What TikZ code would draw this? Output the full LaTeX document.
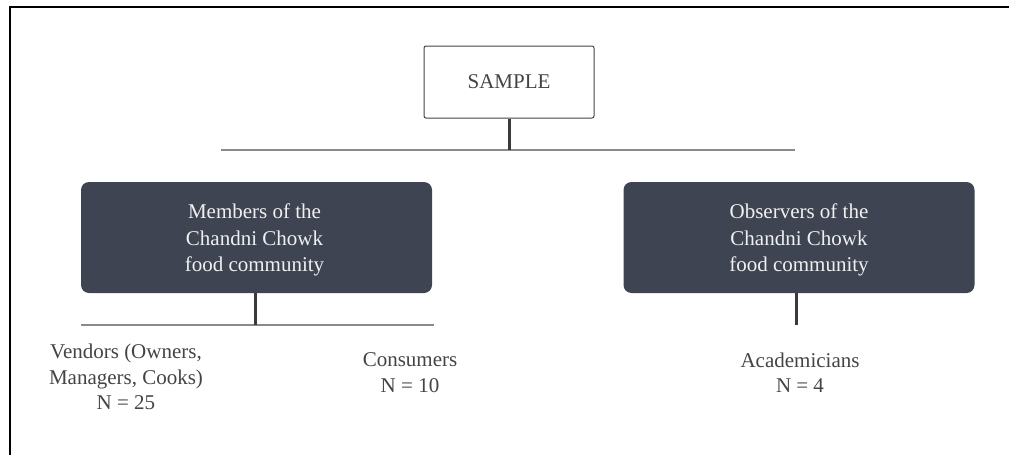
\documentclass[tikz,border=0pt]{standalone}
\usepackage{fontspec}
\setmainfont{Liberation Serif}
\definecolor{boxdark}{HTML}{3E4451}
\definecolor{txtgray}{HTML}{444444}
\definecolor{linedark}{HTML}{3A3A3A}
\definecolor{linelight}{HTML}{8A8A8A}
\begin{document}
\begin{tikzpicture}[x=1pt,y=-1pt,
  txt/.style={font=\fontsize{21}{25.5}\selectfont, align=center, text=txtgray, inner sep=0pt},
  whitebox/.style={draw=txtgray, line width=1pt, rounded corners=2pt, fill=white, minimum width=170pt, minimum height=72pt, inner sep=0pt, font=\fontsize{21}{26}\selectfont, text=txtgray},
  darkbox/.style={fill=boxdark, rounded corners=8pt, minimum width=351pt, minimum height=111pt, inner sep=0pt},
  boxtxt/.style={font=\fontsize{21}{26.5}\selectfont, align=center, text=white!94!black, inner sep=0pt},
  stem/.style={draw=linedark, line width=3pt},
  bar/.style={draw=linelight, line width=1.2pt}]
\useasboundingbox (0,0) rectangle (1009,455);
% frame
\draw[line width=2pt, black] (10,455) -- (10,7) -- (1009,7);
% nodes
\node[whitebox] (sample) at (509,82) {SAMPLE};
\node[darkbox] (members) at (256.5,237.5) {};
\node[boxtxt] (memberstxt) at (254.5,240) {Members of the\\Chandni Chowk\\food community};
\node[darkbox] (observers) at (799,237.5) {};
\node[boxtxt] (observerstxt) at (799,240) {Observers of the\\Chandni Chowk\\food community};
\node[txt] (vendors) at (126,377) {Vendors (Owners,\\Managers, Cooks)\\N = 25};
\node[txt] (consumers) at (410,372.5) {Consumers\\N = 10};
\node[txt] (academ) at (800,372.5) {Academicians\\N = 4};
% connector coordinates
\coordinate (topbar) at (509,150);
\coordinate (topbarL) at (221,150);
\coordinate (topbarR) at (795,150);
\coordinate (lbar) at (255,325);
\coordinate (lbarL) at (81,325);
\coordinate (lbarR) at (434,325);
\coordinate (rend) at (796,325);
% connectors
\draw[bar] (topbarL) -- (topbarR);
\draw[stem] (sample.south) -- (topbar);
\draw[bar] (lbarL) -- (lbarR);
\draw[stem] (members.south -| lbar) -- (lbar);
\draw[stem] (observers.south -| rend) -- (rend);
\end{tikzpicture}
\end{document}
